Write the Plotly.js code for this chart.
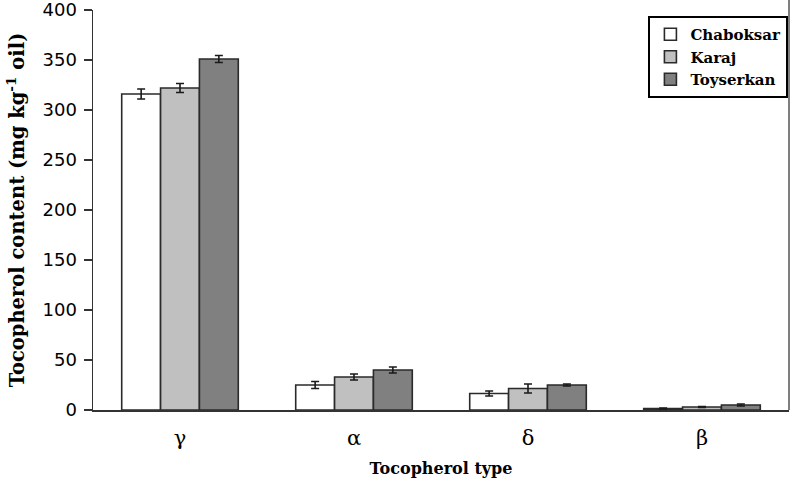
<!DOCTYPE html>
<html>
<head>
<meta charset="utf-8">
<script src="https://cdn.plot.ly/plotly-3.0.1.min.js"></script>
<style>html,body{margin:0;padding:0;background:#fff;}#chart{width:793px;height:481px;}</style>
</head>
<body>
<div id="chart"></div>
<script>
const categories = ["γ", "α", "δ", "β"];
const seriesNames = ["Chaboksar", "Karaj", "Toyserkan"];
const chaboksar = [316, 25, 16.5, 1.5];
const chaboksarErr = [5, 3.5, 2.5, 0.5];
const karaj = [322, 33, 21.5, 3];
const karajErr = [4.5, 3, 4.5, 0.5];
const toyserkan = [351, 40, 25, 5];
const toyserkanErr = [3.5, 3, 1, 1];
const yTicks = [0, 50, 100, 150, 200, 250, 300, 350, 400];

const colors = ["#ffffff", "#c0c0c0", "#808080"];
const vals = [chaboksar, karaj, toyserkan];
const errs = [chaboksarErr, karajErr, toyserkanErr];

const traces = seriesNames.map((n, i) => ({
  type: "bar",
  name: n,
  x: categories,
  y: vals[i],
  marker: {color: colors[i], line: {color: "#2a2a2a", width: 1.6}},
  error_y: {type: "data", array: errs[i], visible: true, color: "#1a1a1a", thickness: 1.6, width: 4}
}));

const layout = {
  width: 793, height: 481,
  margin: {l: 93, r: 4, t: 10, b: 71},
  paper_bgcolor: "#fff", plot_bgcolor: "#fff",
  barmode: "group",
  bargap: 0.33, bargroupgap: 0,
  showlegend: true,
  legend: {
    x: 0.798, y: 0.985, xanchor: "left", yanchor: "top",
    bordercolor: "#000", borderwidth: 2, bgcolor: "#fff",
    font: {family: "DejaVu Serif", size: 15, color: "#000", weight: "bold"},
    traceorder: "normal", itemwidth: 30
  },
  xaxis: {
    type: "category", automargin: false,
    showline: true, linecolor: "#333", linewidth: 1.5,
    ticks: "outside", ticklen: 8, tickcolor: "rgba(0,0,0,0)",
    showgrid: false, zeroline: false,
    tickfont: {family: "DejaVu Serif", size: 21, color: "#000"},
    title: {text: "<b>Tocopherol type</b>", font: {family: "DejaVu Serif", size: 16, color: "#000"}, standoff: 14}
  },
  yaxis: {
    range: [0, 400], automargin: false,
    tickvals: yTicks,
    ticktext: yTicks.map(String),
    ticklabeloverflow: "allow",
    ticklabelstandoff: 3,
    showline: true, linecolor: "#333", linewidth: 1.5,
    ticks: "outside", ticklen: 8, tickcolor: "#333", tickwidth: 1.5,
    showgrid: false, zeroline: false,
    tickfont: {family: "DejaVu Sans", size: 18, color: "#000"},
    title: {text: "<b>Tocopherol content (mg kg<sup>-1</sup> oil)</b>", font: {family: "DejaVu Serif", size: 19.5, color: "#000"}, standoff: 12}
  },
  shapes: [{
    type: "line", xref: "paper", yref: "paper", x0: 1, x1: 1, y0: 0, y1: 1.025,
    line: {color: "#555", width: 1.5}
  }]
};

Plotly.newPlot("chart", traces, layout, {displayModeBar: false, staticPlot: true});
</script>
</body>
</html>
